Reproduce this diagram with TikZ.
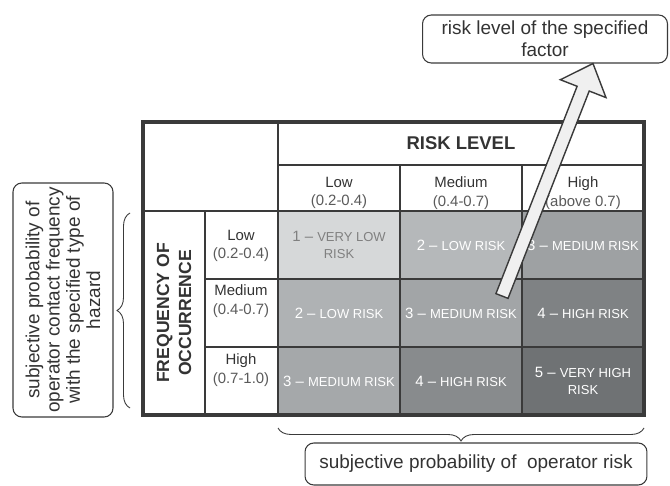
\documentclass[tikz,border=0pt]{standalone}
\usepackage{fontspec}
\setmainfont{Liberation Sans}
\usetikzlibrary{calc,decorations.pathreplacing}

\definecolor{gridline}{HTML}{3A3A3A}
\definecolor{labeltext}{HTML}{333333}
\definecolor{rangetext}{HTML}{5A5A5A}
\definecolor{lvAA}{HTML}{D6D8D9}
\definecolor{lvAB}{HTML}{B5B8BA}
\definecolor{lvAC}{HTML}{9EA1A3}
\definecolor{lvBA}{HTML}{AFB2B4}
\definecolor{lvBB}{HTML}{A2A5A7}
\definecolor{lvBC}{HTML}{7F8284}
\definecolor{lvCA}{HTML}{A5A8AA}
\definecolor{lvCB}{HTML}{888B8D}
\definecolor{lvCC}{HTML}{6F7274}

\newcommand{\capsz}[1]{{\fontsize{7.4}{10}\selectfont #1}}
\newcommand{\rng}[1]{{\color{rangetext}(#1)}}

\begin{document}
\begin{tikzpicture}[x=0.02cm, y=-0.02cm,
  riskcell/.style={minimum width=2.44cm, minimum height=1.36cm, inner sep=0pt, align=center, text=white, font=\fontsize{8.5}{10}\selectfont},
  hdr/.style={align=center, text=labeltext, font=\fontsize{8.5}{10.5}\selectfont, inner sep=1pt},
  notebox/.style={draw=gridline, line width=0.6pt, rounded corners=5pt, align=center, text=labeltext, font=\fontsize{10.8}{12.5}\selectfont, inner sep=2pt},
  bracestyle/.style={draw=gridline, line width=0.5pt, decorate, decoration={brace, amplitude=0.26cm}},
  blockarrow/.style={draw=gridline, fill=gray!12, line width=0.8pt, line join=miter}]
\useasboundingbox (0,0) rectangle (670,486);
% Risk cells
\node[riskcell, fill=lvAA, text=gray] (c11) at (339,245) {1 \textendash{} \capsz{VERY LOW}\\\capsz{RISK}};
\node[riskcell, fill=lvAB] (c12) at (461,245) {2 \textendash{} \capsz{LOW RISK}};
\node[riskcell, fill=lvAC] (c13) at (583,245) {3 \textendash{} \capsz{MEDIUM RISK}};
\node[riskcell, fill=lvBA] (c21) at (339,313) {2 \textendash{} \capsz{LOW RISK}};
\node[riskcell, fill=lvBB] (c22) at (461,313) {3 \textendash{} \capsz{MEDIUM RISK}};
\node[riskcell, fill=lvBC] (c23) at (583,313) {4 \textendash{} \capsz{HIGH RISK}};
\node[riskcell, fill=lvCA] (c31) at (339,381) {3 \textendash{} \capsz{MEDIUM RISK}};
\node[riskcell, fill=lvCB] (c32) at (461,381) {4 \textendash{} \capsz{HIGH RISK}};
\node[riskcell, fill=lvCC] (c33) at (583,381) {5 \textendash{} \capsz{VERY HIGH}\\\capsz{RISK}};
% Grid
\draw[gridline, line width=1.1pt] (205,211) -- (205,415);
\draw[gridline, line width=1.1pt] (278,122) -- (278,415);
\draw[gridline, line width=1.1pt] (400,165) -- (400,415);
\draw[gridline, line width=1.1pt] (522,165) -- (522,415);
\draw[gridline, line width=1.1pt] (278,165) -- (644,165);
\draw[gridline, line width=1.1pt] (143,211) -- (644,211);
\draw[gridline, line width=1.1pt] (205,279) -- (644,279);
\draw[gridline, line width=1.1pt] (205,347) -- (644,347);
\draw[gridline, line width=1.8pt] (143,122) rectangle (644,415);
% Headers
\node[text=labeltext, font=\fontsize{10.5}{12}\selectfont\bfseries] (risklevel) at (461,143) {RISK LEVEL};
\node[hdr] (hlow) at (339,193) {Low\\\rng{0.2-0.4}};
\node[hdr] (hmed) at (461,193) {Medium\\\rng{0.4-0.7}};
\node[hdr] (hhigh) at (583,193) {High\\\rng{above 0.7}};
\node[hdr] (rlow) at (241,246) {Low\\\rng{0.2-0.4}};
\node[hdr] (rmed) at (241,301) {Medium\\\rng{0.4-0.7}};
\node[hdr] (rhigh) at (241,370) {High\\\rng{0.7-1.0}};
\node[rotate=90, align=center, text=labeltext, font=\fontsize{10}{12.5}\selectfont\bfseries] (freq) at (174,313) {FREQUENCY OF\\OCCURRENCE};
% Notes
\node[notebox, minimum width=4.9cm, minimum height=0.96cm] (factorbox) at (545,39) {risk level of the specified\\factor};
\node[notebox, minimum width=6.84cm, minimum height=0.84cm] (riskbox) at (476,464) {subjective probability of\ \ operator risk};
\node[notebox, rotate=90, minimum width=4.68cm, minimum height=2cm, font=\fontsize{10.8}{11.5}\selectfont] (contactbox) at (63,300) {subjective probability of\\operator contact frequency\\with the specified type of\\hazard};
% Braces
\draw[bracestyle] (130,408) -- (130,213);
\draw[bracestyle] (644,428) -- (278,428);
% Block arrow
\coordinate (tail) at ($(c22.center)+(41,-17)$);
\coordinate (tip) at ($(factorbox.south)+(48,0)$);
\coordinate (hb) at ($(tip)!0.54cm!(tail)$);
\draw[blockarrow] ($(tail)!0.13cm!90:(tip)$) -- ($(hb)!0.13cm!90:(tip)$) -- ($(hb)!0.49cm!90:(tip)$) -- (tip)
  -- ($(hb)!0.49cm!-90:(tip)$) -- ($(hb)!0.13cm!-90:(tip)$) -- ($(tail)!0.13cm!-90:(tip)$) -- cycle;
\end{tikzpicture}
\end{document}
